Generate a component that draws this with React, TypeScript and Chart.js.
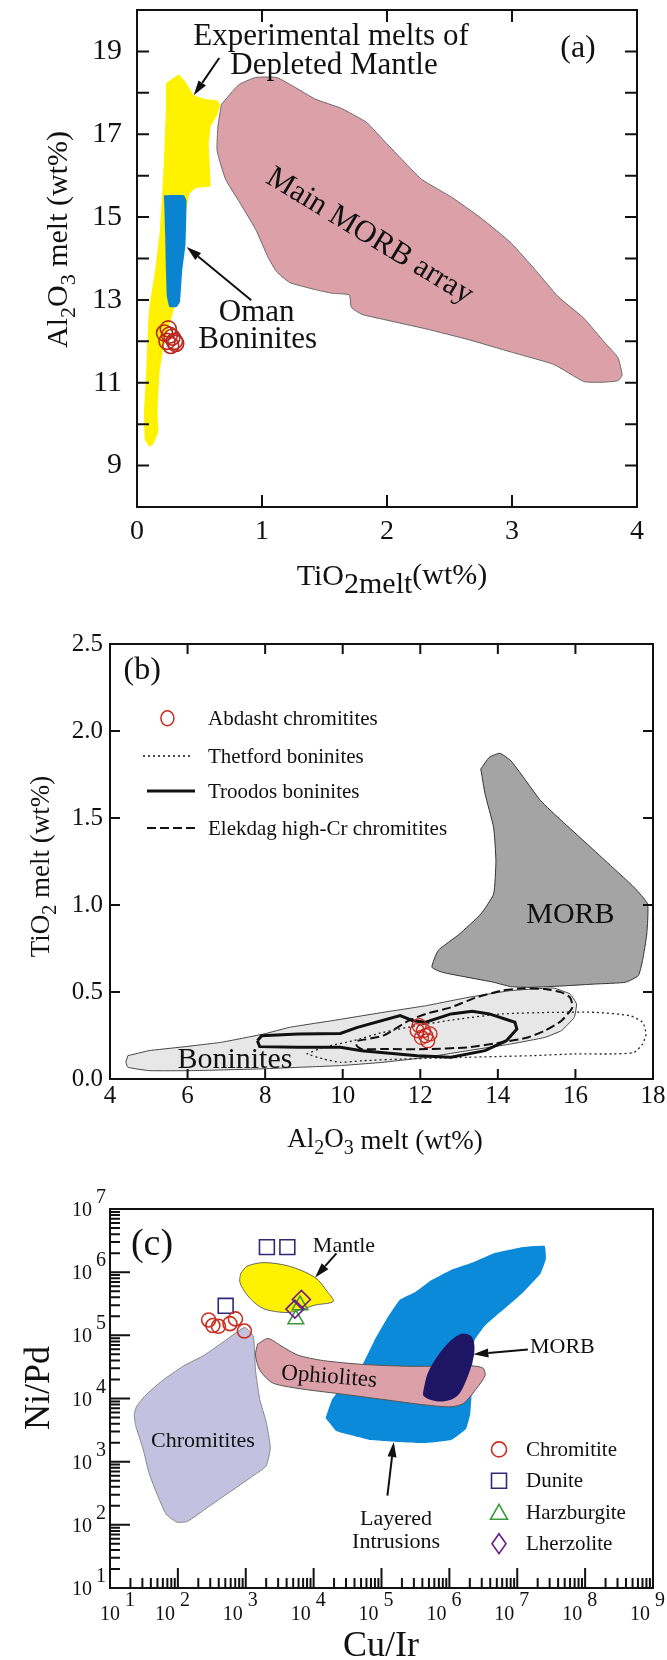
import React, { useEffect, useRef } from 'react';
import { Chart, registerables } from 'chart.js';

Chart.register(...registerables);

const SERIF = '"Liberation Serif", "Times New Roman", Times, serif';
const INK = '#111111';

// ---------------- Panel (a): Al2O3 melt vs TiO2 melt ----------------
const aXTickLabels = [0, 1, 2, 3, 4];
const aYTickLabels = [9, 11, 13, 15, 17, 19];
const aDepletedX = [0.232, 0.334, 0.385, 0.454, 0.539, 0.641, 0.665, 0.641, 0.590, 0.573, 0.590, 0.471, 0.419, 0.385, 0.368, 0.334, 0.300, 0.266, 0.215, 0.181, 0.171, 0.164, 0.171, 0.130, 0.095, 0.061, 0.055, 0.068, 0.078, 0.089, 0.102, 0.147, 0.181, 0.198, 0.215, 0.232];
const aDepletedY = [18.24, 18.45, 18.28, 17.94, 17.85, 17.82, 17.72, 17.46, 17.20, 16.77, 15.74, 15.70, 15.57, 15.05, 14.19, 13.51, 12.82, 12.47, 11.96, 11.27, 10.84, 10.32, 9.81, 9.51, 9.46, 9.63, 10.32, 10.92, 11.61, 12.47, 12.90, 13.76, 14.62, 15.40, 16.34, 17.63];
const aOmanX = [0.215, 0.375, 0.396, 0.389, 0.361, 0.344, 0.317, 0.259, 0.239, 0.232, 0.225, 0.218];
const aOmanY = [15.53, 15.53, 15.40, 14.37, 13.68, 12.95, 12.83, 12.83, 13.08, 13.68, 14.62, 15.31];
const aMorbX = [0.675, 0.812, 0.948, 1.118, 1.255, 1.425, 1.630, 1.835, 1.971, 2.107, 2.278, 2.517, 2.755, 2.994, 3.199, 3.369, 3.574, 3.744, 3.847, 3.881, 3.847, 3.710, 3.574, 3.335, 2.994, 2.653, 2.312, 1.971, 1.800, 1.715, 1.698, 1.562, 1.425, 1.221, 1.118, 1.050, 0.948, 0.812, 0.709, 0.641, 0.648];
const aMorbY = [17.72, 18.19, 18.37, 18.37, 18.15, 17.85, 17.63, 17.29, 16.86, 16.43, 15.91, 15.48, 14.97, 14.37, 13.68, 13.08, 12.56, 11.96, 11.61, 11.18, 11.05, 11.01, 11.03, 11.44, 11.74, 12.04, 12.30, 12.53, 12.65, 12.82, 13.12, 13.16, 13.25, 13.42, 13.68, 14.02, 14.71, 15.40, 15.91, 16.60, 17.20];
const aAbdashtX = [0.22, 0.25, 0.28, 0.30, 0.24, 0.27, 0.31, 0.26];
const aAbdashtY = [12.2, 12.3, 12.1, 12.0, 12.0, 11.9, 11.95, 12.15];

// ---------------- Panel (b): TiO2 melt vs Al2O3 melt ----------------
const bXTickLabels = [4, 6, 8, 10, 12, 14, 16, 18];
const bYTickLabels = [0, 0.5, 1.0, 1.5, 2.0, 2.5];
const bMorbX = [13.56, 13.78, 14.05, 14.33, 14.66, 15.10, 15.64, 16.30, 16.96, 17.51, 17.86, 17.84, 17.73, 17.62, 17.29, 16.52, 15.75, 14.88, 14.33, 13.89, 13.23, 12.57, 12.30, 12.46, 13.01, 13.56, 13.89, 13.95, 13.89, 13.67];
const bMorbY = [1.782, 1.849, 1.872, 1.830, 1.734, 1.600, 1.485, 1.351, 1.216, 1.102, 1.006, 0.833, 0.680, 0.594, 0.556, 0.546, 0.536, 0.527, 0.531, 0.556, 0.584, 0.613, 0.642, 0.738, 0.833, 0.948, 1.063, 1.255, 1.446, 1.638];
const bBoninitesX = [4.46, 5.01, 5.78, 6.87, 7.97, 8.63, 9.72, 11.04, 12.14, 13.23, 14.33, 15.43, 15.86, 16.03, 15.97, 15.64, 15.21, 14.33, 13.23, 12.14, 11.04, 9.94, 8.85, 7.75, 6.11, 5.01, 4.46, 4.41];
const bBoninitesY = [0.134, 0.163, 0.182, 0.211, 0.259, 0.297, 0.335, 0.383, 0.421, 0.469, 0.508, 0.523, 0.489, 0.431, 0.354, 0.278, 0.239, 0.201, 0.163, 0.124, 0.096, 0.077, 0.067, 0.057, 0.048, 0.048, 0.067, 0.096];
const bTroodosX = [7.80, 7.91, 8.85, 9.94, 10.38, 11.48, 11.81, 12.14, 12.79, 13.34, 13.78, 14.44, 14.49, 14.22, 13.67, 12.79, 11.92, 10.49, 9.94, 8.85, 7.86];
const bTroodosY = [0.220, 0.249, 0.259, 0.262, 0.297, 0.364, 0.335, 0.326, 0.374, 0.389, 0.374, 0.326, 0.287, 0.220, 0.163, 0.125, 0.134, 0.163, 0.182, 0.182, 0.186];
const bElekdagX = [10.38, 11.04, 11.70, 12.14, 12.79, 13.45, 14.11, 14.66, 15.21, 15.64, 15.86, 15.92, 15.64, 15.21, 14.77, 14.11, 13.23, 12.14, 11.04, 10.49, 10.36];
const bElekdagY = [0.220, 0.249, 0.335, 0.374, 0.412, 0.469, 0.508, 0.521, 0.517, 0.498, 0.469, 0.412, 0.335, 0.278, 0.239, 0.211, 0.182, 0.172, 0.172, 0.172, 0.192];
const bThetfordX = [9.07, 9.50, 10.27, 11.04, 11.92, 13.01, 14.11, 15.43, 16.52, 17.40, 17.73, 17.82, 17.73, 17.51, 16.96, 15.97, 14.88, 13.23, 11.59, 10.49, 9.94, 9.50];
const bThetfordY = [0.144, 0.182, 0.220, 0.268, 0.307, 0.345, 0.374, 0.383, 0.383, 0.364, 0.326, 0.259, 0.201, 0.153, 0.144, 0.144, 0.134, 0.125, 0.115, 0.105, 0.096, 0.115];
const bAbdashtX = [11.97, 12.08, 12.14, 12.03, 12.19, 11.92, 12.25];
const bAbdashtY = [0.307, 0.278, 0.249, 0.239, 0.220, 0.278, 0.259];
const bLegendLabels = ['Abdasht chromitites', 'Thetford boninites', 'Troodos boninites', 'Elekdag high-Cr chromitites'];

// ---------------- Panel (c): Ni/Pd vs Cu/Ir (log-log) ----------------
const cDecadeExponentsX = [1, 2, 3, 4, 5, 6, 7, 8, 9];
const cDecadeExponentsY = [1, 2, 3, 4, 5, 6, 7];
const cChromFieldX = [24.4, 32.7, 58.1, 119.7, 246, 506, 968, 1294, 1390, 1607, 1995, 2301, 1995, 1202, 585, 284, 138, 96.4, 67.1, 50.4, 37.7, 30.3, 23.8, 22.8];
const cChromFieldY = [7380, 11040, 18970, 32510, 48640, 83560, 133700, 95500, 28380, 9660, 4295, 1675, 853, 569, 332, 194, 113, 110, 148, 290, 652, 1675, 3758, 5636];
const cMantleX = [839, 1042, 1854, 4406, 10470, 16140, 19450, 10470, 5875, 3811, 1854, 1202, 902, 815];
const cMantleY = [9.44e5, 1.239e6, 1.416e6, 1.239e6, 8.26e5, 4.82e5, 3.44e5, 3.01e5, 2.455e5, 2.296e5, 2.624e5, 3.68e5, 5.51e5, 7.21e5];
const cOphioliteX = [1493, 2143, 3304, 5875, 13960, 51170, 2.168e5, 9.16e5, 1.888e6, 3.126e6, 3.357e6, 2.518e6, 1.633e6, 1.059e6, 4.457e5, 1.054e5, 24890, 5875, 2472, 1607, 1390];
const cOphioliteY = [72900, 89300, 68200, 48600, 39800, 34750, 32500, 32500, 33300, 30300, 23170, 14450, 8430, 7380, 7890, 9660, 11830, 14450, 17700, 28380, 48640];
const cLayeredX = [15030, 18660, 24890, 51170, 78890, 1.216e5, 1.875e5, 3.105e5, 5.152e5, 1.059e6, 2.178e6, 4.487e6, 1.23e7, 2.535e7, 2.642e7, 2.193e7, 1.23e7, 6.918e6, 3.357e6, 2.344e6, 2.178e6, 2.118e6, 2.028e6, 1.754e6, 1.059e6, 4.457e5, 1.626e5, 68390, 33190, 21530];
const cLayeredY = [4920, 9660, 14450, 32510, 83560, 1.875e5, 3.68e5, 4.82e5, 7.21e5, 1.081e6, 1.416e6, 1.982e6, 2.495e6, 2.6e6, 1.622e6, 9.44e5, 4.82e5, 2.805e5, 1.432e5, 83600, 37150, 11040, 5636, 3281, 2193, 1968, 2051, 2193, 2685, 3069];
const cMorbX = [4.15e5, 4.786e5, 6.871e5, 1.059e6, 1.521e6, 2.118e6, 2.344e6, 2.178e6, 1.754e6, 1.315e6, 8.53e5, 5.534e5, 4.15e5];
const cMorbY = [13520, 24830, 48640, 83560, 1.064e5, 95500, 63830, 37150, 18970, 11040, 9036, 9397, 11040];
const cChromititeX = [284, 328, 396, 585, 705, 955];
const cChromititeY = [1.75e5, 1.43e5, 1.39e5, 1.53e5, 1.82e5, 1.17e5];
const cDuniteX = [506, 2050, 4100];
const cDuniteY = [2.93e5, 2.49e6, 2.49e6];
const cHarzburgiteX = [5470, 6300];
const cHarzburgiteY = [1.8e5, 3.0e5];
const cLherzoliteX = [5300, 6600];
const cLherzoliteY = [2.6e5, 3.7e5];
const cLegendLabels = ['Chromitite', 'Dunite', 'Harzburgite', 'Lherzolite'];

// ---------------- colours ----------------
const YELLOW = '#fff200';
const BLUE_A = '#0a84d0';
const PINK = '#dba0a8';
const RED = '#b8281e';
const GREY_MORB = '#a4a4a4';
const GREY_LIGHT = '#e7e7e7';
const LAVENDER = '#c4c0e0';
const BLUE_C = '#0a8ad8';
const NAVY = '#1f1565';
const SQUARE_C = '#2e2a7a';
const GREEN_C = '#3c9a3c';
const PURPLE_C = '#6a1b8a';

// ---------------- helpers ----------------
const xy = (xs: number[], ys: number[]) => xs.map((x, i) => ({ x, y: ys[i] }));
const ring = (xs: number[], ys: number[]) => {
  const p = xy(xs, ys);
  return p.concat([{ ...p[0] }]);
};

function area(label: string, xs: number[], ys: number[], fillColor: string | null, stroke: string | null, width: number, dash: number[], order: number, tension: number) {
  return {
    label,
    data: ring(xs, ys),
    showLine: true,
    fill: fillColor ? 'shape' : false,
    backgroundColor: fillColor ?? 'rgba(0,0,0,0)',
    borderColor: stroke ?? 'rgba(0,0,0,0)',
    borderWidth: stroke ? width : 0,
    borderDash: dash,
    pointRadius: 0,
    pointHoverRadius: 0,
    pointHitRadius: 0,
    tension,
    order,
  };
}

function markers(label: string, xs: number[], ys: number[], style: string, color: string, radius: number, order: number, width = 1.5) {
  return {
    label,
    data: xy(xs, ys),
    showLine: false,
    pointStyle: style,
    pointRadius: radius,
    pointHoverRadius: radius,
    pointBorderColor: color,
    pointBackgroundColor: 'rgba(0,0,0,0)',
    pointBorderWidth: width,
    borderColor: color,
    backgroundColor: 'rgba(0,0,0,0)',
    order,
  };
}

type Seg = { t: string; size?: number; dy?: number };

function rich(ctx: CanvasRenderingContext2D, segs: Seg[], x: number, y: number, base: number, rot = 0, align: 'center' | 'left' = 'center') {
  ctx.save();
  ctx.translate(x, y);
  ctx.rotate(rot);
  ctx.fillStyle = INK;
  ctx.textBaseline = 'alphabetic';
  ctx.textAlign = 'left';
  const widths = segs.map((s) => {
    ctx.font = `${s.size ?? base}px ${SERIF}`;
    return ctx.measureText(s.t).width;
  });
  const total = widths.reduce((a, b) => a + b, 0);
  let cx = align === 'center' ? -total / 2 : 0;
  segs.forEach((s, i) => {
    ctx.font = `${s.size ?? base}px ${SERIF}`;
    ctx.fillText(s.t, cx, s.dy ?? 0);
    cx += widths[i];
  });
  ctx.restore();
}

function label(ctx: CanvasRenderingContext2D, t: string, x: number, y: number, size: number, align: CanvasTextAlign = 'center', baseline: CanvasTextBaseline = 'alphabetic', rot = 0) {
  ctx.save();
  ctx.translate(x, y);
  ctx.rotate(rot);
  ctx.font = `${size}px ${SERIF}`;
  ctx.fillStyle = INK;
  ctx.textAlign = align;
  ctx.textBaseline = baseline;
  ctx.fillText(t, 0, 0);
  ctx.restore();
}

function arrow(ctx: CanvasRenderingContext2D, x1: number, y1: number, x2: number, y2: number, head = 15, half = 4.5, lw = 2) {
  const a = Math.atan2(y2 - y1, x2 - x1);
  const bx = x2 - head * Math.cos(a);
  const by = y2 - head * Math.sin(a);
  ctx.save();
  ctx.strokeStyle = INK;
  ctx.fillStyle = INK;
  ctx.lineWidth = lw;
  ctx.beginPath();
  ctx.moveTo(x1, y1);
  ctx.lineTo(bx, by);
  ctx.stroke();
  ctx.beginPath();
  ctx.moveTo(x2, y2);
  ctx.lineTo(bx + half * Math.sin(a), by - half * Math.cos(a));
  ctx.lineTo(bx - half * Math.sin(a), by + half * Math.cos(a));
  ctx.closePath();
  ctx.fill();
  ctx.restore();
}

function frame(ctx: CanvasRenderingContext2D, ca: any, lw = 2) {
  ctx.save();
  ctx.strokeStyle = INK;
  ctx.lineWidth = lw;
  ctx.strokeRect(ca.left, ca.top, ca.right - ca.left, ca.bottom - ca.top);
  ctx.restore();
}

function inTicks(ctx: CanvasRenderingContext2D, ca: any, xs: any, ys: any, xv: number[], yv: number[], len: number, lw: number, sides: { t: boolean; b: boolean; l: boolean; r: boolean }) {
  ctx.save();
  ctx.strokeStyle = INK;
  ctx.lineWidth = lw;
  ctx.beginPath();
  xv.forEach((v) => {
    const p = xs.getPixelForValue(v);
    if (sides.b) { ctx.moveTo(p, ca.bottom); ctx.lineTo(p, ca.bottom - len); }
    if (sides.t) { ctx.moveTo(p, ca.top); ctx.lineTo(p, ca.top + len); }
  });
  yv.forEach((v) => {
    const p = ys.getPixelForValue(v);
    if (sides.l) { ctx.moveTo(ca.left, p); ctx.lineTo(ca.left + len, p); }
    if (sides.r) { ctx.moveTo(ca.right, p); ctx.lineTo(ca.right - len, p); }
  });
  ctx.stroke();
  ctx.restore();
}

const fixY = (w: number) => (s: any) => { s.width = w; s.paddingTop = 0; s.paddingBottom = 0; };
const fixX = (h: number) => (s: any) => { s.height = h; s.paddingLeft = 0; s.paddingRight = 0; };

const noGrid = { display: false, drawTicks: false };
const noBorder = { display: false };

// ---------------- Panel plugins ----------------
const panelA = {
  id: 'panelA',
  afterDraw(chart: any) {
    const { ctx, chartArea: ca } = chart;
    const X = chart.scales.x;
    const Y = chart.scales.y;
    const px = (v: number) => X.getPixelForValue(v);
    const py = (v: number) => Y.getPixelForValue(v);
    inTicks(ctx, ca, X, Y, [1, 2, 3], [9, 10, 11, 12, 13, 14, 15, 16, 17, 18, 19], 12, 2, { t: true, b: true, l: true, r: true });
    frame(ctx, ca, 2);
    label(ctx, 'Experimental melts of', px(1.552), py(19.155), 31);
    label(ctx, 'Depleted Mantle', px(1.576), py(18.455), 31);
    label(ctx, '(a)', px(3.528), py(19.06), 32, 'center', 'middle');
    label(ctx, 'Oman', px(0.957), py(12.49), 31);
    label(ctx, 'Boninites', px(0.966), py(11.84), 31);
    label(ctx, 'Main MORB array', px(1.86), py(14.54), 31, 'center', 'middle', 0.545);
    arrow(ctx, px(0.658), py(18.84), px(0.454), py(17.94));
    arrow(ctx, px(0.914), py(12.99), px(0.397), py(14.28));
    // axis titles
    rich(ctx, [{ t: 'Al' }, { t: '2', size: 22, dy: 8 }, { t: 'O' }, { t: '3', size: 22, dy: 8 }, { t: ' melt (wt%)' }], 67, (ca.top + ca.bottom) / 2 - 19, 30, -Math.PI / 2);
    rich(ctx, [{ t: 'TiO' }, { t: '2melt', dy: 8 }, { t: '(wt%)', dy: -1 }], (ca.left + ca.right) / 2 + 5, ca.bottom + 78, 30);
  },
};

const panelB = {
  id: 'panelB',
  afterDraw(chart: any) {
    const { ctx, chartArea: ca } = chart;
    const X = chart.scales.x;
    const Y = chart.scales.y;
    const px = (v: number) => X.getPixelForValue(v);
    const py = (v: number) => Y.getPixelForValue(v);
    inTicks(ctx, ca, X, Y, [6, 8, 10, 12, 14, 16], [0.5, 1.0, 1.5, 2.0], 10, 2, { t: true, b: true, l: true, r: true });
    frame(ctx, ca, 2);
    label(ctx, '(b)', px(4.35), py(2.35), 32, 'left', 'middle');
    label(ctx, 'MORB', px(15.87), py(0.943), 30, 'center', 'middle');
    label(ctx, 'Boninites', px(7.22), py(0.063), 30);
    // legend
    const lx = ca.left;
    const ty = ca.top;
    ctx.save();
    ctx.strokeStyle = '#c8281e';
    ctx.lineWidth = 1.5;
    ctx.beginPath();
    ctx.ellipse(lx + 57.4, ty + 74.3, 6.5, 7.5, 0, 0, Math.PI * 2);
    ctx.stroke();
    ctx.strokeStyle = INK;
    ctx.lineWidth = 1.3;
    ctx.setLineDash([2, 3]);
    ctx.beginPath(); ctx.moveTo(lx + 33, ty + 112); ctx.lineTo(lx + 81, ty + 112); ctx.stroke();
    ctx.setLineDash([]);
    ctx.lineWidth = 3;
    ctx.beginPath(); ctx.moveTo(lx + 37, ty + 147); ctx.lineTo(lx + 85, ty + 147); ctx.stroke();
    ctx.lineWidth = 2;
    ctx.setLineDash([9, 4]);
    ctx.beginPath(); ctx.moveTo(lx + 37, ty + 184); ctx.lineTo(lx + 85, ty + 184); ctx.stroke();
    ctx.restore();
    const ly = [74.3, 112, 147, 184];
    bLegendLabels.forEach((t, i) => label(ctx, t, lx + 98, ty + ly[i] + 1, 21, 'left', 'middle'));
    // axis titles
    rich(ctx, [{ t: 'TiO' }, { t: '2', size: 20, dy: 7 }, { t: ' melt (wt%)' }], 49, (ca.top + ca.bottom) / 2 + 5, 27, -Math.PI / 2);
    rich(ctx, [{ t: 'Al' }, { t: '2', size: 20, dy: 7 }, { t: 'O' }, { t: '3', size: 20, dy: 7 }, { t: ' melt (wt%)', dy: 2 }], (ca.left + ca.right) / 2 + 3.5, ca.bottom + 68, 27);
  },
};

function legendMarker(ctx: CanvasRenderingContext2D, kind: number, x: number, y: number) {
  ctx.save();
  ctx.lineWidth = 1.6;
  ctx.beginPath();
  if (kind === 0) {
    ctx.strokeStyle = '#c83020';
    ctx.arc(x, y, 7.5, 0, Math.PI * 2);
  } else if (kind === 1) {
    ctx.strokeStyle = SQUARE_C;
    ctx.rect(x - 7.5, y - 7.5, 15, 15);
  } else if (kind === 2) {
    ctx.strokeStyle = GREEN_C;
    ctx.moveTo(x, y - 8); ctx.lineTo(x + 8.5, y + 7); ctx.lineTo(x - 8.5, y + 7); ctx.closePath();
  } else {
    ctx.strokeStyle = PURPLE_C;
    ctx.moveTo(x, y - 10); ctx.lineTo(x + 7, y); ctx.lineTo(x, y + 10); ctx.lineTo(x - 7, y); ctx.closePath();
  }
  ctx.stroke();
  ctx.restore();
}

const panelC = {
  id: 'panelC',
  afterDraw(chart: any) {
    const { ctx, chartArea: ca } = chart;
    const X = chart.scales.x;
    const Y = chart.scales.y;
    const px = (v: number) => X.getPixelForValue(v);
    const py = (v: number) => Y.getPixelForValue(v);
    // log ticks (left and bottom, inward)
    ctx.save();
    ctx.strokeStyle = INK;
    ctx.lineWidth = 2;
    ctx.beginPath();
    for (let e = 1; e < 9; e++) {
      for (let m = 1; m < 10; m++) {
        const v = m * Math.pow(10, e);
        const p = px(v);
        const len = m === 1 ? 20 : 10;
        if (m === 1 && e === 1) continue;
        ctx.moveTo(p, ca.bottom); ctx.lineTo(p, ca.bottom - len);
      }
    }
    for (let e = 1; e < 7; e++) {
      for (let m = 1; m < 10; m++) {
        const v = m * Math.pow(10, e);
        const p = py(v);
        const len = m === 1 ? 20 : 10;
        if (m === 1 && e === 1) continue;
        ctx.moveTo(ca.left, p); ctx.lineTo(ca.left + len, p);
      }
    }
    ctx.stroke();
    ctx.restore();
    frame(ctx, ca, 2);
    // tick labels 10^n
    cDecadeExponentsY.forEach((n) => {
      const p = py(Math.pow(10, n));
      label(ctx, '10', ca.left - 18, p + 7, 20, 'right');
      label(ctx, String(n), ca.left - 14, p - 6, 20, 'left');
    });
    cDecadeExponentsX.forEach((n) => {
      const p = px(Math.pow(10, n)) + (n === 1 ? 13 : 0);
      label(ctx, '10', p - 3, ca.bottom + 32, 20, 'right');
      label(ctx, String(n), p + 2, ca.bottom + 18, 20, 'left');
    });
    // annotations
    label(ctx, '(c)', px(41.6), py(2.69e6), 38, 'center', 'middle');
    label(ctx, 'Mantle', px(2.8e4), py(2.08e6), 22);
    label(ctx, 'MORB', px(1.54e7), py(5.25e4), 22, 'left');
    label(ctx, 'Layered', px(1.64e5), py(100), 22);
    label(ctx, 'Intrusions', px(1.64e5), py(42.3), 22);
    label(ctx, 'Chromitites', px(234), py(1722), 22);
    label(ctx, 'Ophiolites', px(1.69e4), py(2.19e4), 23, 'center', 'middle', 0.08);
    arrow(ctx, px(21680), py(1.982e6), px(10520), py(8.26e5));
    arrow(ctx, px(1.436e7), py(59700), px(2.259e6), py(50120));
    arrow(ctx, px(1.222e5), py(290), px(1.517e5), py(2051));
    // legend
    const ly = [240.4, 271.8, 303.3, 334.7];
    cLegendLabels.forEach((t, i) => {
      legendMarker(ctx, i, ca.left + 389, ca.top + ly[i]);
      label(ctx, t, ca.left + 416, ca.top + ly[i] + 1, 21, 'left', 'middle');
    });
    // axis titles
    label(ctx, 'Ni/Pd', 49, (ca.top + ca.bottom) / 2 - 10.5, 36, 'center', 'alphabetic', -Math.PI / 2);
    label(ctx, 'Cu/Ir', 381, ca.bottom + 68, 36);
  },
};

function makeA(canvas: HTMLCanvasElement) {
  return new Chart(canvas, {
    type: 'scatter',
    data: {
      datasets: [
        markers('Abdasht chromitites', aAbdashtX, aAbdashtY, 'circle', RED, 8, 0, 1.6),
        area('Oman Boninites', aOmanX, aOmanY, BLUE_A, null, 0, [], 20, 0.1),
        area('Experimental melts of Depleted Mantle', aDepletedX, aDepletedY, YELLOW, null, 0, [], 30, 0),
        area('Main MORB array', aMorbX, aMorbY, PINK, '#6a6a6a', 1, [], 30, 0.15),
      ] as any,
    },
    options: {
      animation: false,
      responsive: false,
      events: [],
      layout: { padding: { top: 10, right: 30, bottom: 0, left: 0 } },
      plugins: { legend: { display: false }, tooltip: { enabled: false } },
      scales: {
        x: {
          type: 'linear', position: 'bottom', min: 0, max: 4,
          grid: noGrid, border: noBorder,
          ticks: { stepSize: 1, autoSkip: false, maxRotation: 0, minRotation: 0, padding: 8, color: INK, font: { family: SERIF, size: 28 }, callback: (v: any) => (aXTickLabels.includes(v) ? String(v) : '') },
          afterFit: fixX(103),
        },
        y: {
          type: 'linear', position: 'left', min: 8, max: 20,
          grid: noGrid, border: noBorder,
          ticks: { stepSize: 1, autoSkip: false, padding: 15, color: INK, font: { family: SERIF, size: 30 }, callback: (v: any) => (aYTickLabels.includes(v) ? String(v) : '') },
          afterFit: fixY(137),
        },
      },
    } as any,
    plugins: [panelA],
  });
}

function makeB(canvas: HTMLCanvasElement) {
  return new Chart(canvas, {
    type: 'scatter',
    data: {
      datasets: [
        markers('Abdasht chromitites', bAbdashtX, bAbdashtY, 'circle', '#c8281e', 7, 0, 1.3),
        area('Troodos boninites', bTroodosX, bTroodosY, null, INK, 3, [], 10, 0),
        area('Elekdag high-Cr chromitites', bElekdagX, bElekdagY, null, INK, 2, [9, 4], 20, 0.2),
        area('Thetford boninites', bThetfordX, bThetfordY, null, '#222', 1.3, [2, 3], 30, 0.2),
        area('MORB', bMorbX, bMorbY, GREY_MORB, '#333', 1, [], 40, 0.15),
        area('Boninites', bBoninitesX, bBoninitesY, GREY_LIGHT, '#444', 1, [], 50, 0.1),
      ] as any,
    },
    options: {
      animation: false,
      responsive: false,
      events: [],
      layout: { padding: { top: 29, right: 14, bottom: 0, left: 0 } },
      plugins: { legend: { display: false }, tooltip: { enabled: false } },
      scales: {
        x: {
          type: 'linear', position: 'bottom', min: 4, max: 18,
          grid: noGrid, border: noBorder,
          ticks: { stepSize: 2, autoSkip: false, maxRotation: 0, minRotation: 0, padding: 2, color: INK, font: { family: SERIF, size: 25 }, callback: (v: any) => (bXTickLabels.includes(v) ? String(v) : '') },
          afterFit: fixX(96),
        },
        y: {
          type: 'linear', position: 'left', min: 0, max: 2.5,
          grid: noGrid, border: noBorder,
          ticks: { stepSize: 0.5, autoSkip: false, padding: 7, color: INK, font: { family: SERIF, size: 25 }, callback: (v: any) => (bYTickLabels.some((t) => Math.abs(t - v) < 1e-6) ? Number(v).toFixed(1) : '') },
          afterFit: fixY(110),
        },
      },
    } as any,
    plugins: [panelB],
  });
}

function makeC(canvas: HTMLCanvasElement) {
  return new Chart(canvas, {
    type: 'scatter',
    data: {
      datasets: [
        markers('Chromitite', cChromititeX, cChromititeY, 'circle', '#c83020', 7, 0, 1.6),
        markers('Dunite', cDuniteX, cDuniteY, 'rect', SQUARE_C, 10.5, 1, 1.6),
        markers('Lherzolite', cLherzoliteX, cLherzoliteY, 'rectRot', PURPLE_C, 9, 2, 1.6),
        markers('Harzburgite', cHarzburgiteX, cHarzburgiteY, 'triangle', GREEN_C, 9, 3, 1.6),
        area('MORB', cMorbX, cMorbY, NAVY, null, 0, [], 20, 0.35),
        area('Ophiolites', cOphioliteX, cOphioliteY, PINK, '#555', 1, [], 30, 0.25),
        area('Layered Intrusions', cLayeredX, cLayeredY, BLUE_C, null, 0, [], 40, 0.1),
        area('Mantle', cMantleX, cMantleY, YELLOW, '#666', 1, [], 50, 0.3),
        area('Chromitites', cChromFieldX, cChromFieldY, LAVENDER, '#888', 1, [], 60, 0.15),
      ] as any,
    },
    options: {
      animation: false,
      responsive: false,
      events: [],
      layout: { padding: { top: 29, right: 14, bottom: 0, left: 0 } },
      plugins: { legend: { display: false }, tooltip: { enabled: false } },
      scales: {
        x: {
          type: 'logarithmic', position: 'bottom', min: 10, max: 1e9,
          grid: noGrid, border: noBorder,
          ticks: { display: false },
          afterFit: fixX(72),
        },
        y: {
          type: 'logarithmic', position: 'left', min: 10, max: 1e7,
          grid: noGrid, border: noBorder,
          ticks: { display: false },
          afterFit: fixY(110),
        },
      },
    } as any,
    plugins: [panelC],
  });
}

export default function App() {
  const r1 = useRef<HTMLCanvasElement>(null);
  const r2 = useRef<HTMLCanvasElement>(null);
  const r3 = useRef<HTMLCanvasElement>(null);

  useEffect(() => {
    const charts: Chart[] = [];
    if (r1.current) charts.push(makeA(r1.current));
    if (r2.current) charts.push(makeB(r2.current));
    if (r3.current) charts.push(makeC(r3.current));
    return () => charts.forEach((c) => c.destroy());
  }, []);

  return (
    <div style={{ position: 'absolute', left: 0, top: 0, width: 667, height: 1660, background: '#ffffff', overflow: 'hidden' }}>
      <canvas ref={r1} width={667} height={610} style={{ position: 'absolute', left: 0, top: 0, width: 667, height: 610 }} />
      <canvas ref={r2} width={667} height={560} style={{ position: 'absolute', left: 0, top: 615, width: 667, height: 560 }} />
      <canvas ref={r3} width={667} height={480} style={{ position: 'absolute', left: 0, top: 1180, width: 667, height: 480 }} />
    </div>
  );
}
